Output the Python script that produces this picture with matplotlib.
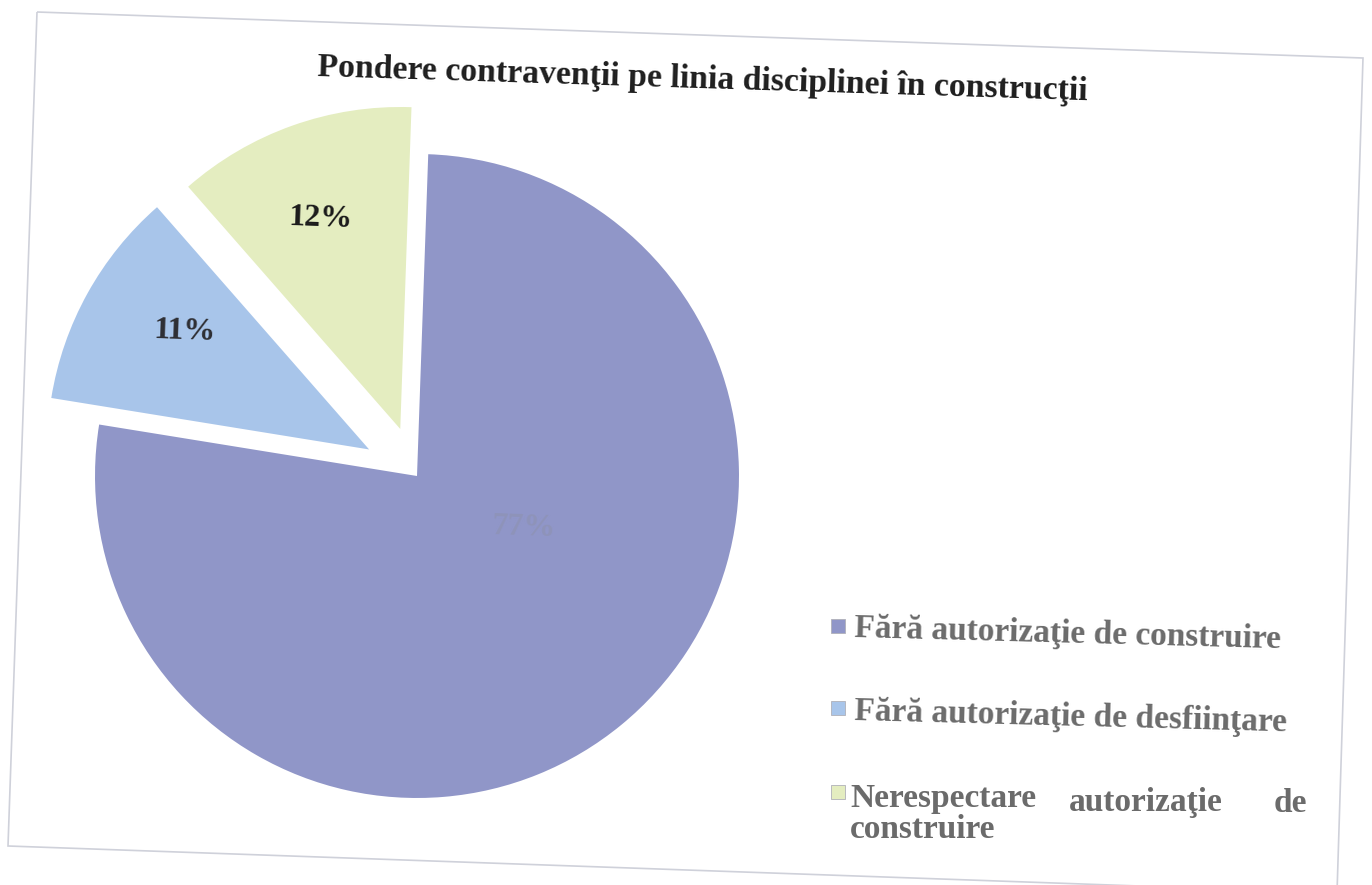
import matplotlib.pyplot as plt
from matplotlib.patches import Polygon, Rectangle

# data
categories = ["Fără autorizaţie de construire",
              "Fără autorizaţie de desfiinţare",
              "Nerespectare autorizaţie de construire"]
shares = [77, 11, 12]
pct_labels = ["77%", "11%", "12%"]

colors = ['#9096c8', '#a8c5ea', '#e4edc0']
label_colors = ['#8e93b9', '#2e2e33', '#1a1a1a']
title = "Pondere contravenţii pe linia disciplinei în construcţii"

plt.rcParams['font.family'] = ['Liberation Serif', 'DejaVu Serif']

fig = plt.figure(figsize=(13.72, 8.85), dpi=100)
W, H = 1372, 885

def fx(x):
        return x / W

def fy(y):
        return 1 - y / H

# scanned page frame, slightly tilted
frame = Polygon([(fx(37), fy(12)), (fx(1363), fy(58)), (fx(1337), fy(893)), (fx(8), fy(846))],
                closed=True, fill=False, edgecolor='#cfd1da', linewidth=1.2,
                transform=fig.transFigure)
fig.patches.append(frame)

# pie axes, centre approx (417, 476) px, radius ~322 px
cx, cy, half = 417, 476, 350
ax = fig.add_axes([fx(cx - half), fy(cy + half), 2 * half / W, 2 * half / H])
wedges, texts = ax.pie(shares, colors=colors, startangle=88, counterclock=False,
                       explode=[0, 0.17, 0.155], radius=1.0,
                       wedgeprops=dict(linewidth=0))
ax.set_xlim(-1.087, 1.087)
ax.set_ylim(-1.087, 1.087)
ax.set_aspect('equal')
ax.axis('off')

# percentage labels
label_pos = [(0.33, -0.16), (-0.72, 0.45), (-0.30, 0.80)]
for (lx, ly), txt, c in zip(label_pos, pct_labels, label_colors):
        ax.text(lx, ly, txt, ha='center', va='center', fontsize=23,
                fontweight='bold', color=c, rotation=-2)

fig.text(fx(703), fy(80), title, ha='center', va='center', fontsize=24.3,
         fontweight='bold', color='#1e1e1e', rotation=-1.8)

# legend, drawn by hand to keep the justified last entry
leg_color = '#6b6b6b'
fs = 24
leg_y = [626, 708, 792]
for y, c in zip(leg_y, colors):
        fig.patches.append(Rectangle((fx(831), fy(y + 7)), 14 / W, 14 / H,
                                     facecolor=c, edgecolor='#b0b0b8', linewidth=0.6,
                                     transform=fig.transFigure))
fig.text(fx(854), fy(634), categories[0], ha='left', va='center', fontsize=fs,
         fontweight='bold', color=leg_color, rotation=-1.5)
fig.text(fx(854), fy(717), categories[1], ha='left', va='center', fontsize=fs,
         fontweight='bold', color=leg_color, rotation=-1.5)
words = categories[2].split(' ')
fig.text(fx(850), fy(799), words[0], ha='left', va='center', fontsize=fs,
         fontweight='bold', color=leg_color)
fig.text(fx(1146), fy(802), words[1], ha='center', va='center', fontsize=fs,
         fontweight='bold', color=leg_color)
fig.text(fx(1307), fy(804), words[2], ha='right', va='center', fontsize=fs,
         fontweight='bold', color=leg_color)
fig.text(fx(850), fy(830), words[3], ha='left', va='center', fontsize=fs,
         fontweight='bold', color=leg_color)

fig.savefig('out.png', dpi=100, facecolor='white')
